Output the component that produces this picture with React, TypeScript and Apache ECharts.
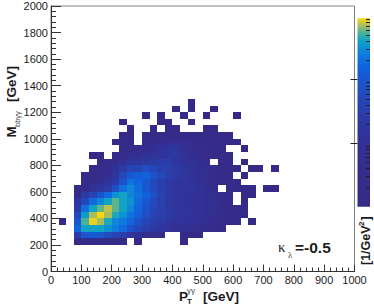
import React, { useEffect, useRef } from "react";
import * as echarts from "echarts";

const BIN_X = 25;
const BIN_Y = 50;
const X_TICKS_MAX = 1000;
const Y_TICKS_MAX = 2000;

// Position on the logarithmic colour bar, in percent, per cell; -1 = empty cell.
const firstRow = 4;
const rowStart = [3, 3, 3, 1, 3, 3, 3, 3, 3, 4, 4, 5, 6, 5, 9, 8, 9, 10, 9, 12, 16, 18];
const rowLevels = [
  [12, 12, 12, 14, 12, 10, 10, -1, 5, -1, -1, -1, -1, -1, 5],
  [48, 67, 70, 68, 60, 55, 50, 40, 35, 30, 25, 20, -1, -1, 5, 5, 5],
  [74, 88, 88, 88, 85, 81, 76, 66, 58, 50, 44, 40, 36, 32, 30, 28, 25, 20, 15, 10],
  [5, -1, 69, 92, 99, 96, 89, 83, 80, 74, 64, 56, 50, 47, 40, 38, 36, 34, 32, 28, 22, 16, 10, 6, -1, 5],
  [58, 87, 96, 100, 96, 89, 85, 79, 72, 62, 54, 50, 47, 42, 40, 38, 34, 32, 28, 22, 15, 10, 6],
  [46, 78, 88, 93, 97, 93, 88, 83, 74, 65, 56, 50, 44, 40, 38, 36, 33, 28, 24, 16, 12, 8, 5],
  [40, 58, 76, 83, 88, 93, 88, 85, 76, 69, 59, 50, 44, 40, 38, 36, 34, 30, 24, 16, 12, -1, 6],
  [12, 46, 55, 67, 76, 85, 88, 83, 79, 73, 63, 54, 46, 42, 38, 36, 34, 30, 24, 18, 12, -1, 8, 5],
  [10, 14, 33, 42, 48, 63, 78, 83, 77, 68, 59, 52, 46, 42, 40, 40, 35, 30, 22, -1, 10, 8, 6, 5, -1, 5, 5],
  [12, 16, 30, 38, 48, 66, 78, 75, 69, 59, 51, 46, 42, 40, 36, 32, 26, 20, 14, 10, 5],
  [8, 12, 22, 30, 42, 58, 68, 72, 73, 63, 59, 50, 46, 40, 34, 30, 26, 18, 12, 6, -1, 5],
  [10, 14, 22, 35, 46, 56, 55, 62, 58, 52, 50, 46, 42, 36, 32, 28, 20, 12, 8, 5, -1, 5, 5, -1, 5],
  [10, 12, 22, 33, 40, 42, 44, 46, 48, 50, 42, 36, 33, 28, 22, -1, 8, 5, -1, 5],
  [5, 5, -1, 10, 18, 28, 30, 33, 36, 38, 42, 44, 34, 28, 22, 16, 10, 6, 5],
  [8, 12, 20, 26, 30, 36, 42, 42, 30, 24, 18, 12, 8, 5, -1, -1, 5],
  [5, 5, 5, -1, 10, 16, 22, 26, 28, 26, 22, 14, 10, 8, 5, 5, 5],
  [5, 5, -1, 6, 8, 12, 14, 12, 10, 10, 8, 8, 5, 5, 5],
  [5, -1, -1, 5, -1, 5, 5, -1, -1, -1, 5, 5],
  [5, -1, -1, -1, -1, 5, 5, -1, -1, 5],
  [5, -1, 5, -1, -1, 5, -1, -1, 5, -1, -1, -1, 5],
  [5, -1, 5, -1, -1, 5],
  [5],
];

const paletteStops = [
  "#352a87", "#352a87", "#352b88", "#352b88", "#352c8a", "#342d8c", "#342e8e", "#332f91",
  "#323196", "#30349a", "#2e369e", "#2c3aa4", "#2a3eac", "#2842b2", "#2448ba", "#2050c4",
  "#1a54cc", "#145cd6", "#1066dd", "#0f74de", "#1088d8", "#0ca0c8", "#3fb0a0", "#a3bb62",
  "#ffd60e",
];

const colourBarMin = 1e-7;
const colourBarMax = 9.27e-5;
const colourMajor = [1e-6, 1e-5];
const colourMinor = [
  2e-7, 3e-7, 4e-7, 5e-7, 6e-7, 7e-7, 8e-7, 9e-7,
  2e-6, 3e-6, 4e-6, 5e-6, 6e-6, 7e-6, 8e-6, 9e-6,
  2e-5, 3e-5, 4e-5, 5e-5, 6e-5, 7e-5, 8e-5, 9e-5,
];

const cells: number[][] = [];
rowLevels.forEach((row, r) => {
  row.forEach((level, c) => {
    if (level >= 0) {
      cells.push([(rowStart[r] + c) * BIN_X, (firstRow + r) * BIN_Y, level]);
    }
  });
});

const FONT = '"Liberation Sans", Arial, sans-serif';
const TEXT = "#1c1c1c";

function txt(
  text: string, x: number, y: number, font: string,
  extra: { rotation?: number; fill?: string; align?: string } = {}
) {
  return {
    type: "text",
    x,
    y,
    rotation: extra.rotation ?? 0,
    silent: true,
    style: {
      text,
      font,
      fill: extra.fill ?? TEXT,
      textAlign: extra.align ?? "left",
      textVerticalAlign: "middle",
    },
  };
}

export default function App() {
  const ref = useRef<HTMLDivElement>(null);
  useEffect(() => {
    if (!ref.current) return;
    const chart = echarts.init(ref.current, undefined, { renderer: "svg" });
    const up = Math.PI / 2;
    const logAxis = (values: number[], length: number) => ({
      type: "log",
      gridIndex: 1,
      position: "right",
      min: colourBarMin,
      max: colourBarMax,
      z: 10,
      axisLine: { show: false },
      splitLine: { show: false },
      minorTick: { show: false },
      axisLabel: { show: false },
      axisTick: {
        show: true,
        inside: true,
        length,
        customValues: values,
        lineStyle: { color: "#222", width: 1 },
      },
    });
    chart.setOption({
      animation: false,
      backgroundColor: "#fff",
      grid: [
        { left: 51, top: 6, width: 303.5, height: 265.5, show: true, borderColor: "#808080", borderWidth: 1, backgroundColor: "transparent" },
        { left: 357.5, top: 18.3, width: 12.5, height: 188.4, show: false },
      ],
      xAxis: [
        {
          type: "value",
          gridIndex: 0,
          min: 0,
          max: X_TICKS_MAX,
          interval: 100,
          splitLine: { show: false },
          axisLine: { onZero: false, lineStyle: { color: "#333", width: 1 } },
          axisTick: { inside: true, length: 7, lineStyle: { color: "#333", width: 1 } },
          minorTick: { show: true, splitNumber: 5, length: 4, lineStyle: { color: "#333", width: 1 } },
          axisLabel: { color: TEXT, fontFamily: FONT, fontSize: 11, margin: 3, hideOverlap: false, formatter: (v: number) => String(v) },
        },
        { type: "value", gridIndex: 1, show: false, min: 0, max: 1 },
      ],
      yAxis: [
        {
          type: "value",
          gridIndex: 0,
          min: 0,
          max: Y_TICKS_MAX,
          interval: 200,
          splitLine: { show: false },
          axisLine: { onZero: false, lineStyle: { color: "#333", width: 1 } },
          axisTick: { inside: true, length: 10, lineStyle: { color: "#333", width: 1 } },
          minorTick: { show: true, splitNumber: 5, length: 5, lineStyle: { color: "#333", width: 1 } },
          axisLabel: { color: TEXT, fontFamily: FONT, fontSize: 11, margin: 3, hideOverlap: false, formatter: (v: number) => String(v) },
        },
        logAxis(colourMajor, 7),
        logAxis(colourMinor, 4),
      ],
      visualMap: {
        type: "continuous",
        show: false,
        seriesIndex: 0,
        dimension: 2,
        min: 0,
        max: 100,
        inRange: { color: paletteStops },
      },
      series: [
        {
          type: "custom",
          coordinateSystem: "cartesian2d",
          xAxisIndex: 0,
          yAxisIndex: 0,
          encode: { x: 0, y: 1 },
          data: cells,
          renderItem: (_: any, api: any) => {
            const x = api.value(0);
            const y = api.value(1);
            const a = api.coord([x, y + BIN_Y]);
            const b = api.coord([x + BIN_X, y]);
            const x0 = Math.round(a[0]);
            const y0 = Math.round(a[1]);
            return {
              type: "rect",
              shape: { x: x0, y: y0, width: Math.round(b[0]) - x0, height: Math.round(b[1]) - y0 },
              style: { fill: api.visual("color") },
            };
          },
        },
      ],
      graphic: [
        {
          type: "rect",
          silent: true,
          z: 1,
          shape: { x: 357.5, y: 18.3, width: 12.5, height: 188.4 },
          style: {
            fill: new echarts.graphic.LinearGradient(
              0, 1, 0, 0,
              paletteStops.map((color, i) => ({ offset: i / (paletteStops.length - 1), color }))
            ),
          },
        },
        txt("P", 179, 296, `bold 13.5px ${FONT}`),
        txt("T", 187, 301, `bold 8px ${FONT}`),
        txt("γγ", 187, 290, `8px ${FONT}`, { fill: "#444" }),
        txt("[GeV]", 203, 296, `bold 13.5px ${FONT}`),
        txt("M", 11.5, 137.5, `bold 13.5px ${FONT}`, { rotation: up }),
        txt("bbγγ", 17, 127, `7.5px ${FONT}`, { rotation: up, fill: "#444" }),
        txt("[GeV]", 11.5, 102, `bold 13.5px ${FONT}`, { rotation: up }),
        txt("κ", 278, 247, `15px "Liberation Serif", serif`),
        txt("λ", 288, 255, `9px "Liberation Serif", serif`, { fill: "#444" }),
        txt("=-0.5", 295, 247, `bold 15.5px ${FONT}`),
        txt("[1/GeV", 366, 265, `bold 12.5px ${FONT}`, { rotation: up }),
        txt("2", 361, 226, `bold 8px ${FONT}`, { rotation: up }),
        txt("]", 366, 220.5, `bold 12.5px ${FONT}`, { rotation: up }),
      ],
    });
    return () => chart.dispose();
  }, []);
  return (
    <div
      ref={ref}
      style={{ position: "fixed", left: 0, top: 0, width: 374, height: 307 }}
    />
  );
}
